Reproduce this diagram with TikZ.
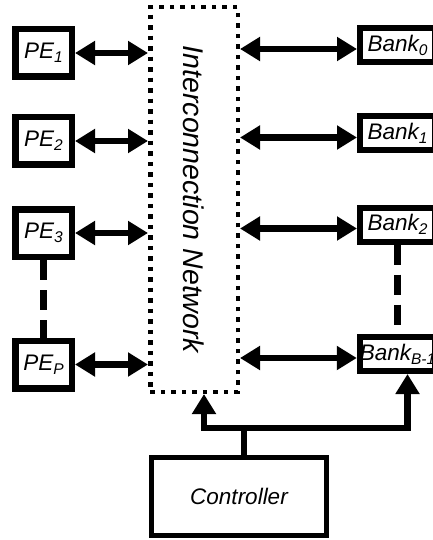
\documentclass[tikz,border=0pt]{standalone}
\usepackage{fontspec}
\setmainfont{Liberation Sans}
\usetikzlibrary{arrows.meta,positioning}
\newcommand{\lidx}[1]{\raisebox{-4pt}{\fontsize{15.5}{15.5}\selectfont #1}}

\begin{document}
\begin{tikzpicture}[x=1pt, y=-1pt, >={Triangle[length=20pt,width=23pt]}]
  \tikzset{
    blk/.style={draw, line width=6.5pt, inner sep=0pt, font=\fontsize{22.5}{26}\selectfont\itshape},
    pebox/.style={blk, minimum width=56.5pt, minimum height=47.5pt},
    bankbox/.style={blk, line width=6pt, minimum width=75pt, minimum height=34pt},
    wire/.style={line width=6.5pt},
    gap/.style={line width=6.5pt, dash pattern=on 20pt off 10pt}
  }
  \useasboundingbox (0,0) rectangle (433,540);
  \clip (0,0) rectangle (433,540);
  % network
  \node[draw, line width=4.5pt, dash pattern=on 4.5pt off 6pt, minimum width=87.5pt, minimum height=384.5pt] (net) at (194,199.5) {};
  \node[rotate=-90, font=\fontsize{28.5}{30}\selectfont\itshape] (nettext) at (net.center) {Interconnection Network};
  % processing elements
  \foreach \i/\y/\s in {1/53/1, 2/141/2, 3/233/3, 4/364.5/P}
  {
    \node[pebox] (pe\i) at (43.5,\y) {PE\lidx{\s}};
    \draw[wire,<->] (pe\i.east) -- (net.west |- pe\i.east);
  }
  \draw[gap] (pe3.south) -- (pe4.north);
  % memory banks
  \foreach \i/\y/\s in {1/45/0, 2/133.5/1, 3/224.5/2, 4/354/B-1}
  {
    \node[bankbox] (bank\i) at (397.5,\y) {Bank\lidx{\s}};
    \coordinate (bw\i) at ([yshift=-4pt]bank\i.west);
    \draw[wire,<->] (net.east |- bw\i) -- (bw\i);
  }
  \draw[gap] (bank3.south) -- (bank4.north);
  % controller
  \node[blk, line width=5pt, minimum width=175pt, minimum height=78pt] (ctrl) at (239,496.5) {Controller};
  \coordinate (busm) at (244,428);
  \coordinate (busl) at (204,428);
  \coordinate (busr) at (407.5,428);
  \draw[wire] (ctrl.north -| busm) -- (busm);
  \draw[wire,->] (busm) -- (busl) -- (net.south -| busl);
  \draw[wire,->] (busm) -- (busr) -- (bank4.south -| busr);
\end{tikzpicture}
\end{document}
